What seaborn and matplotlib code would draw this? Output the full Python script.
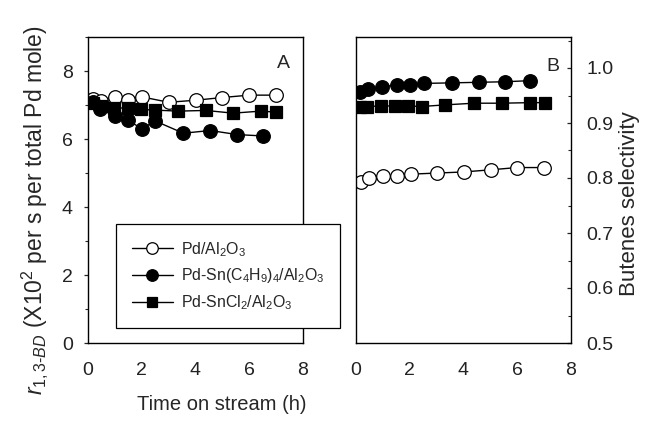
import matplotlib
matplotlib.use("Agg")
import matplotlib.pyplot as plt
import seaborn as sns
import pandas as pd
from matplotlib.ticker import MultipleLocator

# ---- data ----
# Panel A: rate r_1,3-BD (x10^2 per s per total Pd mole)
a_pd_t = [0.2, 0.5, 1.0, 1.5, 2.0, 3.0, 4.0, 5.0, 6.0, 7.0]
a_pd_y = [7.17, 7.12, 7.25, 7.15, 7.24, 7.08, 7.14, 7.22, 7.29, 7.29]
a_snbu_t = [0.2, 0.45, 1.0, 1.5, 2.0, 2.5, 3.55, 4.55, 5.55, 6.5]
a_snbu_y = [7.1, 6.88, 6.68, 6.55, 6.3, 6.53, 6.17, 6.25, 6.13, 6.09]
a_sncl_t = [0.2, 0.5, 0.95, 1.47, 1.96, 2.49, 3.36, 4.38, 5.4, 6.43, 7.0]
a_sncl_y = [7.05, 6.97, 6.9, 6.92, 6.87, 6.85, 6.82, 6.84, 6.76, 6.82, 6.79]

# Panel B: butenes selectivity
b_pd_t = [0.2, 0.5, 1.02, 1.51, 2.04, 3.02, 4.01, 5.04, 5.99, 7.0]
b_pd_y = [0.793, 0.800, 0.804, 0.804, 0.807, 0.809, 0.811, 0.815, 0.819, 0.819]
b_snbu_t = [0.15, 0.46, 0.95, 1.51, 2.0, 2.53, 3.58, 4.57, 5.56, 6.47]
b_snbu_y = [0.957, 0.961, 0.966, 0.969, 0.970, 0.972, 0.973, 0.974, 0.975, 0.977]
b_sncl_t = [0.15, 0.4, 0.92, 1.45, 1.94, 2.44, 3.33, 4.39, 5.42, 6.47, 7.05]
b_sncl_y = [0.930, 0.930, 0.931, 0.931, 0.931, 0.930, 0.933, 0.936, 0.936, 0.937, 0.937]

labels = ['Pd/Al$_2$O$_3$',
          'Pd-Sn(C$_4$H$_9$)$_4$/Al$_2$O$_3$',
          'Pd-SnCl$_2$/Al$_2$O$_3$']
x_ticks = [0, 2, 4, 6, 8]
a_y_ticks = [0, 2, 4, 6, 8]
b_y_ticks = [0.5, 0.6, 0.7, 0.8, 0.9, 1.0]

sns.set_style("white")
plt.rcParams['font.family'] = ['Liberation Sans', 'DejaVu Sans']
plt.rcParams['mathtext.fontset'] = 'custom'
plt.rcParams['mathtext.rm'] = 'Liberation Sans'
plt.rcParams['mathtext.it'] = 'Liberation Sans:italic'
plt.rcParams['mathtext.bf'] = 'Liberation Sans:bold'

fig = plt.figure(figsize=(6.53, 4.22), dpi=100)
axA = fig.add_axes([88/653, 1-343/422, 215/653, 306/422])
axB = fig.add_axes([356/653, 1-343/422, 215/653, 306/422])

styles = [dict(marker='o', markerfacecolor='white'),
          dict(marker='o', markerfacecolor='black'),
          dict(marker='s', markerfacecolor='black')]
common = dict(color='black', markeredgecolor='black', markersize=9.8,
              markeredgewidth=0.9, linewidth=1.0)

def draw(ax, series):
    for (t, y), st, lab in zip(series, styles, labels):
        df = pd.DataFrame({'t': t, 'y': y})
        kw = dict(common)
        kw['markersize'] = 8.8 if st['marker'] == 's' else common['markersize']
        sns.lineplot(data=df, x='t', y='y', ax=ax, label=lab, legend=False,
                     **st, **kw)
    return ax

draw(axA, [(a_pd_t, a_pd_y), (a_snbu_t, a_snbu_y), (a_sncl_t, a_sncl_y)])
draw(axB, [(b_pd_t, b_pd_y), (b_snbu_t, b_snbu_y), (b_sncl_t, b_sncl_y)])

for ax in (axA, axB):
    ax.set_xlim(0, 8)
    ax.set_xticks(x_ticks)
    ax.xaxis.set_minor_locator(MultipleLocator(1))
    ax.set_xlabel('')
    ax.set_ylabel('')
    for s in ax.spines.values():
        s.set_visible(True)
        s.set_color('black')
        s.set_linewidth(1.0)
    ax.tick_params(axis='x', which='major', direction='in', length=4,
                   width=0.9, labelsize=14, pad=14, colors='black')
    ax.tick_params(axis='x', which='minor', direction='in', length=2.5,
                   width=0.8)
    ax.tick_params(axis='x', labelcolor='#222222')

axA.set_ylim(0, 9)
axA.set_yticks(a_y_ticks)
axA.yaxis.set_minor_locator(MultipleLocator(1))
axA.tick_params(axis='y', which='major', direction='out', length=3,
                width=0.9, labelsize=14, pad=8, left=True, labelcolor='#222222')
axA.tick_params(axis='y', which='minor', direction='out', length=2, width=0.8,
                left=True)
axA.set_ylabel(r'$r_{1,3\text{-}BD}$ (X10$^2$ per s per total Pd mole)',
               fontsize=16.5, va='center')
axA.yaxis.set_label_coords((35-88)/215, (343-210)/306)

axB.set_ylim(0.5, 0.5 + 306/550)
axB.yaxis.tick_right()
axB.yaxis.set_label_position('right')
axB.set_yticks(b_y_ticks)
axB.set_yticklabels([f'{v:.1f}' for v in b_y_ticks])
axB.yaxis.set_minor_locator(MultipleLocator(0.05))
axB.tick_params(axis='y', which='major', direction='in', length=3,
                width=0.9, labelsize=14, pad=11, right=True, left=False,
                labelcolor='#222222')
axB.tick_params(axis='y', which='minor', direction='in', length=2, width=0.8,
                right=True, left=False)
axB.set_ylabel('Butenes selectivity', fontsize=16, va='center')
axB.yaxis.set_label_coords((630-356)/215, (343-204)/306)

axA.text(0.91, 0.915, 'A', transform=axA.transAxes, fontsize=14,
         ha='center', va='center')
axB.text(0.915, 0.905, 'B', transform=axB.transAxes, fontsize=14,
         ha='center', va='center')

fig.text(222/653, 1-404/422, 'Time on stream (h)', fontsize=14.5,
         ha='center', va='center')

h, l = axA.get_legend_handles_labels()
leg = axA.legend(h, l, loc='upper left', bbox_to_anchor=(28/215, (343-224)/306),
                 borderaxespad=0, frameon=True, fancybox=False,
                 edgecolor='black', fontsize=11.4, markerscale=0.85,
                 handlelength=2.6, handletextpad=0.5, borderpad=1.0,
                 labelspacing=0.5, framealpha=1)
leg.get_frame().set_linewidth(0.9)
leg.set_zorder(5)

fig.savefig('out.png', dpi=100)
